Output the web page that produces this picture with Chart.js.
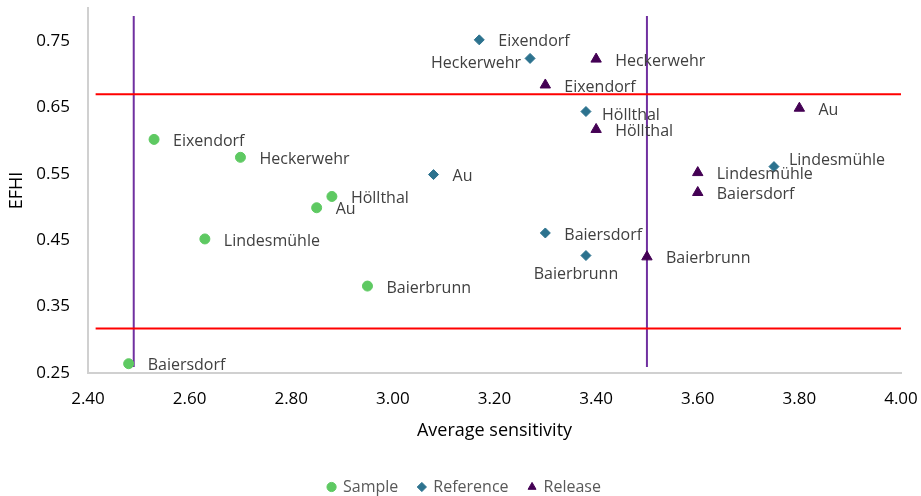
<!DOCTYPE html>
<html>
<head>
<meta charset="utf-8">
<script src="https://cdn.jsdelivr.net/npm/chart.js@4"></script>
<style>
  html, body { margin: 0; padding: 0; background: #fff; }
  #wrap { width: 921px; height: 496px; }
</style>
</head>
<body>
<div id="wrap"><canvas id="efhi_chart"></canvas></div>
<script>
const sites = ['Au', 'Baierbrunn', 'Baiersdorf', 'Eixendorf', 'Heckerwehr', 'Höllthal', 'Lindesmühle']

const sampleX = [2.85, 2.95, 2.48, 2.53, 2.70, 2.88, 2.63]
const sampleY = [0.499, 0.381, 0.264, 0.602, 0.575, 0.516, 0.452]

const referenceX = [3.08, 3.38, 3.30, 3.17, 3.27, 3.38, 3.75]
const referenceY = [0.549, 0.427, 0.461, 0.752, 0.724, 0.644, 0.561]

const releaseX = [3.80, 3.50, 3.60, 3.30, 3.40, 3.40, 3.60]
const releaseY = [0.649, 0.425, 0.522, 0.684, 0.723, 0.617, 0.552]

// threshold lines
const efhiLimits = [0.317, 0.670]
const sensitivityLimits = [2.49, 3.50]

const yTicks = [0.25, 0.35, 0.45, 0.55, 0.65, 0.75]

// where each point label goes (same order as sites)
const samplePlace = ['right', 'right', 'right', 'right', 'right', 'right', 'right']
const referencePlace = ['right', 'below', 'right', 'right', 'left', 'rightLow', 'rightHigh']
const releasePlace = ['right', 'right', 'right', 'right', 'right', 'right', 'right']

const toPoints = (xs, ys) => xs.map((x, i) => ({ x: x, y: ys[i] }))

const FONT = '"Open Sans", "DejaVu Sans", sans-serif'

const limitSets = []
efhiLimits.forEach(v => {
    limitSets.push({
        label: '_hline', data: [{ x: 2.415, y: v }, { x: 4.0, y: v }],
        showLine: true, borderColor: '#ff0000', borderWidth: 2, pointRadius: 0, order: 5
    })
})
sensitivityLimits.forEach(v => {
    limitSets.push({
        label: '_vline', data: [{ x: v, y: 0.259 }, { x: v, y: 0.788 }],
        showLine: true, borderColor: '#7030a0', borderWidth: 2, pointRadius: 0, order: 5
    })
})

const pointLabels = {
    id: 'pointLabels',
    afterDatasetsDraw(chart) {
        const ctx = chart.ctx
        ctx.save()
        ctx.font = '16px ' + FONT
        ctx.fillStyle = '#404040'
        ctx.textBaseline = 'middle'
        chart.data.datasets.forEach((ds, di) => {
            if (!ds.places) return
            chart.getDatasetMeta(di).data.forEach((el, i) => {
                const p = ds.places[i]
                let x = el.x + 19, y = el.y + 2
                ctx.textAlign = 'left'
                if (p === 'left') { ctx.textAlign = 'right'; x = el.x - 9; y = el.y + 5 }
                if (p === 'below') { ctx.textAlign = 'center'; x = el.x - 10; y = el.y + 19 }
                if (p === 'rightLow') { x = el.x + 16; y = el.y + 4 }
                if (p === 'rightHigh') { x = el.x + 15; y = el.y - 6 }
                ctx.fillText(sites[i], x, y)
            })
        })
        ctx.restore()
    }
}

// legend in the original sits a bit right of the canvas centre
const legendShift = {
    id: 'legendShift',
    afterLayout(chart) {
        if (chart.legend) {
            chart.legend.left += 14
            chart.legend.right += 14
        }
    }
}

const data = {
    datasets: [
        {
            label: 'Sample', data: toPoints(sampleX, sampleY), places: samplePlace,
            pointStyle: 'circle', pointRadius: 5, backgroundColor: '#5ec962', borderColor: '#5ec962', order: 1
        },
        {
            label: 'Reference', data: toPoints(referenceX, referenceY), places: referencePlace,
            pointStyle: 'rectRot', pointRadius: 5, backgroundColor: '#2c728e', borderColor: '#2c728e', order: 1
        },
        {
            label: 'Release', data: toPoints(releaseX, releaseY), places: releasePlace,
            pointStyle: 'triangle', pointRadius: 6, backgroundColor: '#440154', borderColor: '#440154', order: 1
        },
        ...limitSets
    ]
}

const config = {
    type: 'scatter',
    data: data,
    plugins: [pointLabels, legendShift],
    options: {
        responsive: true,
        maintainAspectRatio: false,
        animation: false,
        layout: { padding: { left: 0, right: 20, top: 8, bottom: -9 } },
        plugins: {
            tooltip: { enabled: false },
            legend: {
                position: 'bottom',
                labels: {
                    usePointStyle: true,
                    boxWidth: 7, boxHeight: 6.5,
                    padding: 20,
                    color: '#595959',
                    font: { family: FONT, size: 16 },
                    filter: item => !item.text.startsWith('_')
                }
            }
        },
        scales: {
            x: {
                type: 'linear', min: 2.4, max: 4.0,
                grid: { display: false, drawTicks: false },
                border: { display: true, color: '#d0d0d0', width: 2 },
                ticks: {
                    stepSize: 0.2, color: '#000', padding: 16,
                    font: { family: FONT, size: 17 },
                    callback: v => v.toFixed(2)
                },
                title: {
                    display: true, text: 'Average sensitivity', color: '#000',
                    font: { family: FONT, size: 18 }, padding: { top: 6, bottom: 17 }
                },
                afterFit: s => { s.height = 86; s.paddingLeft = 0; s.paddingRight = 0 }
            },
            y: {
                type: 'linear', min: 0.25, max: 0.80,
                grid: { display: false, drawTicks: false },
                border: { display: true, color: '#d0d0d0', width: 2 },
                afterBuildTicks: s => { s.ticks = yTicks.map(v => ({ value: v })) },
                ticks: {
                    color: '#000', padding: 18,
                    font: { family: FONT, size: 17 },
                    callback: v => v.toFixed(2)
                },
                title: {
                    display: true, text: 'EFHI', color: '#000',
                    font: { family: FONT, size: 18 }, padding: { top: 6, bottom: 0 }
                },
                afterFit: s => { s.width = 88; s.paddingTop = 0; s.paddingBottom = 0 }
            }
        }
    }
}

const ctx = document.getElementById('efhi_chart').getContext('2d')
const efhiChart = new Chart(ctx, config)
</script>
</body>
</html>
